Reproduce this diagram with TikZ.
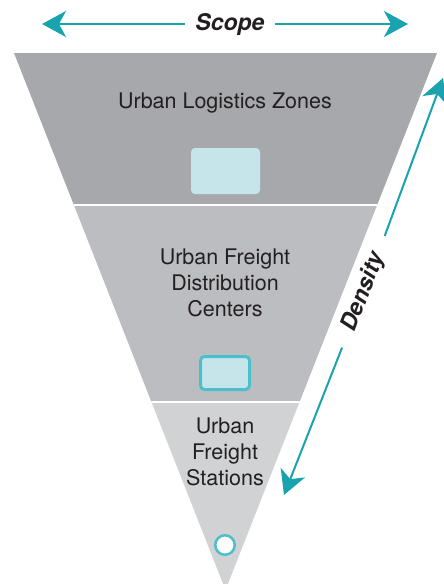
\documentclass[tikz,border=0pt]{standalone}
\usepackage{fontspec}
\setmainfont{TeX Gyre Heros}
\usetikzlibrary{arrows.meta}

\definecolor{bandone}{HTML}{A7A8AB}
\definecolor{bandtwo}{HTML}{BCBDC0}
\definecolor{bandthree}{HTML}{D1D2D4}
\definecolor{arrowteal}{HTML}{19A3AE}
\definecolor{boxteal}{HTML}{4DBFCC}
\definecolor{boxfill}{HTML}{C6E5EB}
\definecolor{textgray}{HTML}{231F20}

\begin{document}
\begin{tikzpicture}[x=1pt,y=-1pt,>={Stealth[length=24pt,width=26pt,inset=7pt]},
  level label/.style={align=center,text=textgray,font=\fontsize{21.5}{26}\selectfont},
  axis label/.style={text=textgray,font=\fontsize{23}{26}\selectfont\bfseries\itshape},
  dim arrow/.style={->,draw=arrowteal,line width=2pt},
  zone box/.style={rectangle,rounded corners=4pt,fill=boxfill,inner sep=0pt}]

  \useasboundingbox (0,0) rectangle (444,584);

  % funnel bands
  \begin{scope}
    \clip (14,53) -- (437,53) -- (225.5,590) -- cycle;
    \fill[bandone] (0,53) rectangle (444,205);
    \fill[bandtwo] (0,205) rectangle (444,402);
    \fill[bandthree] (0,402) rectangle (444,600);
    \draw[white,line width=2pt] (0,205) -- (444,205);
    \draw[white,line width=2pt] (0,402) -- (444,402);
  \end{scope}

  % base anchor sits on the last line
  \node[level label,anchor=base] (zones) at (225,108) {Urban Logistics Zones};
  \node[level label,anchor=base] (centers) at (225,316) {Urban Freight\\Distribution\\Centers};
  \node[level label,anchor=base] (stations) at (225,485) {Urban\\Freight\\Stations};

  \node[zone box,minimum width=69pt,minimum height=46pt] (zonebox) at (225.5,171) {};
  \node[zone box,draw=boxteal,line width=3pt,minimum width=49pt,minimum height=33pt] (centerbox) at (225,373) {};
  \node[circle,draw=boxteal,fill=white,line width=2.5pt,minimum size=19.5pt,inner sep=0pt] (station) at (225,545) {};

  % scope arrow
  \node[axis label,inner xsep=10pt] (scope) at (230,24) {Scope};
  \coordinate (scopeleft) at (42,24);
  \coordinate (scoperight) at (408,24);
  \draw[dim arrow] (scope) -- (scopeleft);
  \draw[dim arrow] (scope) -- (scoperight);

  % density arrow
  \node[axis label,rotate=69.1,inner xsep=18pt] (density) at (364,292) {Density};
  \coordinate (densitytop) at (443,78);
  \coordinate (densitybottom) at (284,495);
  \draw[dim arrow] (density) -- (densitytop);
  \draw[dim arrow] (density) -- (densitybottom);
\end{tikzpicture}
\end{document}
